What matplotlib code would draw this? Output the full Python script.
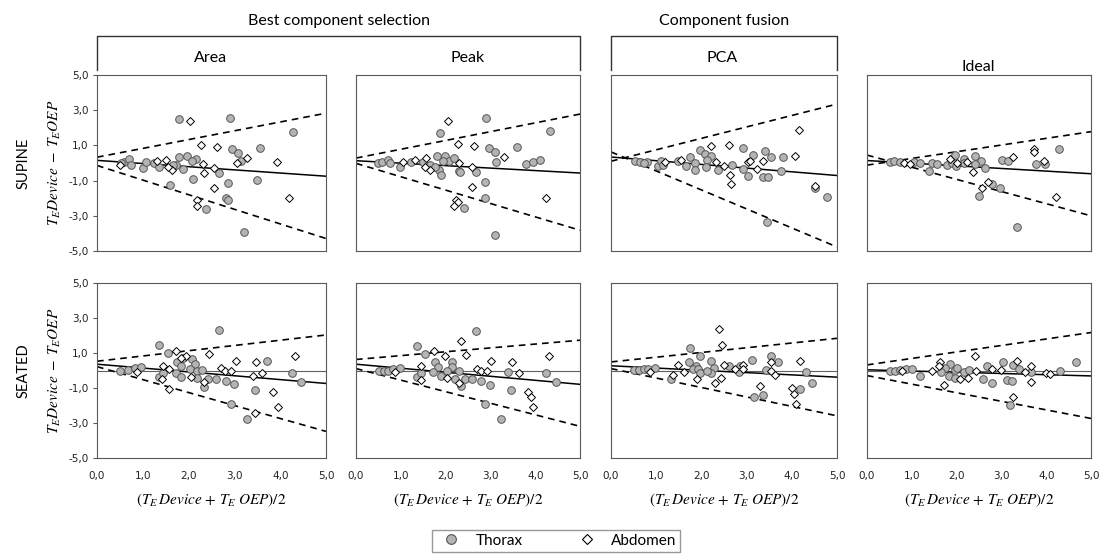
import matplotlib.pyplot as plt
import numpy as np
from matplotlib.lines import Line2D

# ---- datos ----
columnas = ['Area', 'Peak', 'PCA', 'Ideal']
filas = ['SUPINE', 'SEATED']
x_ticks = [0, 1, 2, 3, 4, 5]
x_tick_labels = ['0,0', '1,0', '2,0', '3,0', '4,0', '5,0']
y_ticks = [5, 3, 1, -1, -3, -5]
y_tick_labels = ['5,0', '3,0', '1,0', '-1,0', '-3,0', '-5,0']

# SUPINE - Area
sup_area_thx_x = [1.78, 2.91, 4.29, 3.55, 2.95, 3.07, 3.15, 1.80, 1.97, 2.17, 2.07, 0.60, 0.69, 0.74, 0.53, 1.00,
                  1.08, 1.24, 1.36, 1.67, 1.88, 2.10, 1.59, 2.66, 2.87, 3.49, 2.81, 2.87, 2.38, 3.22, 1.73, 1.66]
sup_area_thx_y = [2.50, 2.53, 1.74, 0.86, 0.80, 0.58, 0.14, 0.33, 0.37, 0.24, 0.10, 0.05, 0.20, -0.10, 0.00, -0.29,
                  0.05, 0.00, -0.23, -0.18, -0.33, -0.90, -1.27, -0.57, -1.12, -0.99, -1.99, -2.08, -2.59, -3.91, -0.10, -0.10]
sup_area_abd_x = [2.04, 2.26, 2.62, 1.31, 1.51, 0.51, 1.64, 2.33, 2.31, 2.55, 2.56, 2.18, 2.18, 3.28, 3.06, 3.93, 4.20, 1.56]
sup_area_abd_y = [2.36, 1.03, 0.93, 0.14, 0.18, -0.10, -0.39, -0.54, -0.08, -0.27, -1.40, -2.12, -2.46, 0.27, 0.00, 0.05, -1.99, -0.24]
sup_area_rectas = [(0.15, -0.18), (0.33, 0.50), (-0.14, -0.83)]

# SUPINE - Peak
sup_peak_thx_x = [2.91, 1.87, 4.32, 3.60, 2.97, 3.10, 3.13, 3.80, 3.96, 4.11, 0.50, 0.59, 0.71, 0.76, 0.99, 1.22, 1.50,
                  1.65, 1.80, 1.99, 2.08, 2.19, 1.86, 1.89, 2.30, 2.33, 2.67, 2.89, 2.89, 2.40, 3.11, 1.76, 1.95]
sup_peak_thx_y = [2.58, 1.68, 1.79, 0.92, 0.83, 0.60, 0.08, -0.06, 0.04, 0.19, 0.00, 0.08, 0.17, 0.00, -0.25, 0.04, 0.08,
                  -0.09, 0.42, 0.42, 0.13, 0.28, -0.40, -0.66, -0.43, -0.49, -0.53, -1.09, -2.00, -2.53, -4.11, -0.21, 0.09]
sup_peak_abd_x = [2.06, 2.28, 2.64, 3.30, 1.32, 1.56, 2.31, 2.58, 1.65, 2.58, 2.23, 2.28, 2.19, 4.23, 1.06, 1.54]
sup_peak_abd_y = [2.40, 1.08, 0.98, 0.32, 0.17, 0.28, 0.00, -0.25, -0.40, -1.38, -2.09, -2.23, -2.45, -1.98, 0.04, -0.21]
sup_peak_rectas = [(0.13, -0.14), (0.28, 0.50), (-0.02, -0.76)]

# SUPINE - PCA
sup_pca_thx_x = [2.93, 1.98, 2.07, 2.21, 1.75, 3.15, 3.41, 3.55, 3.80, 2.12, 1.85, 1.49, 1.67, 1.86, 2.10, 2.36,
                 2.68, 2.93, 3.04, 3.37, 3.48, 3.75, 4.77, 4.51, 3.46, 0.54, 0.65, 0.80, 1.05, 1.11, 1.16, 0.72]
sup_pca_thx_y = [0.86, 0.74, 0.51, 0.38, 0.34, 0.44, 0.67, 0.34, 0.34, 0.15, 0.00, 0.10, -0.19, -0.38, -0.25, -0.38,
                 -0.13, -0.34, -0.72, -0.80, -0.80, -0.44, -1.94, -1.43, -3.37, 0.10, 0.04, 0.04, -0.15, 0.10, -0.10, 0.00]
sup_pca_abd_x = [4.17, 2.21, 2.62, 4.06, 3.04, 3.37, 2.33, 2.50, 2.64, 2.66, 3.22, 4.51, 1.54, 1.20, 3.08]
sup_pca_abd_y = [1.86, 0.99, 1.01, 0.38, 0.04, 0.10, 0.06, -0.19, -0.67, -1.18, -0.34, -1.33, 0.15, 0.04, 0.13]
sup_pca_rectas = [(0.34, -0.21), (0.10, 0.65), (0.63, -1.08)]

# SUPINE - Ideal
sup_ideal_thx_x = [4.29, 3.35, 2.49, 2.78, 2.96, 3.01, 3.15, 3.78, 3.97, 1.97, 2.17, 2.40, 2.55, 2.64, 2.42, 1.38,
                   0.52, 0.60, 0.74, 1.06, 1.19, 1.45, 1.56, 1.79, 1.90, 1.99, 2.16]
sup_ideal_thx_y = [0.81, -3.63, -1.86, -1.21, -1.40, 0.18, 0.12, -0.07, -0.07, 0.47, 0.24, 0.41, 0.09, -0.30, -0.05, -0.45,
                   0.05, 0.09, 0.05, 0.05, 0.00, 0.00, -0.07, -0.10, 0.00, -0.16, 0.00]
sup_ideal_abd_x = [3.72, 3.72, 3.27, 1.86, 2.70, 2.57, 2.36, 4.22, 3.94, 2.01, 2.23, 0.82, 0.97]
sup_ideal_abd_y = [0.81, 0.60, 0.33, 0.24, -1.10, -1.40, -0.52, -1.95, 0.09, 0.00, 0.03, 0.00, -0.05]
sup_ideal_rectas = [(0.14, -0.15), (-0.12, 0.38), (0.45, -0.69)]

# SEATED - Area
sea_area_thx_x = [2.66, 1.36, 1.54, 1.74, 1.87, 1.83, 2.08, 2.15, 2.03, 2.19, 2.30, 1.72, 1.83, 2.19, 2.43, 2.60,
                  2.34, 2.81, 2.99, 2.92, 3.27, 3.46, 3.72, 4.26, 4.46, 1.36, 0.50, 0.68, 0.83, 0.96, 1.45]
sea_area_thx_y = [2.29, 1.43, 0.99, 0.51, 0.74, 0.28, 0.66, 0.38, 0.07, -0.02, 0.03, -0.12, -0.39, -0.45, -0.50, -0.48,
                  -0.92, -0.60, -0.79, -1.93, -2.78, -1.12, 0.55, -0.16, -0.64, -0.35, 0.00, 0.03, 0.17, 0.19, -0.12]
sea_area_abd_x = [1.72, 1.95, 2.44, 3.03, 3.48, 4.32, 1.45, 1.57, 1.83, 2.70, 2.79, 2.92, 2.05, 2.34, 3.40, 3.61,
                  1.43, 1.57, 3.85, 3.96, 3.46, 0.88]
sea_area_abd_y = [1.13, 0.84, 0.93, 0.57, 0.47, 0.84, 0.28, 0.09, 0.71, 0.13, 0.00, 0.00, -0.39, -0.64, -0.29, -0.16,
                  -0.50, -1.06, -1.21, -2.11, -2.45, -0.06]
sea_area_rectas = [(0.36, -0.22), (0.53, 0.30), (0.22, -0.74)]

# SEATED - Peak
sea_peak_thx_x = [2.67, 1.37, 1.54, 1.76, 1.82, 2.14, 2.15, 2.03, 1.90, 1.71, 2.21, 2.34, 2.43, 2.60, 2.79, 2.99,
                  2.89, 3.24, 3.46, 3.40, 4.25, 4.46, 1.37, 0.51, 0.63, 0.72, 0.83, 0.98, 2.30, 1.46]
sea_peak_thx_y = [2.26, 1.40, 0.97, 0.49, 0.21, 0.46, 0.21, 0.00, -0.30, -0.11, -0.46, -0.89, -0.51, -0.49, -0.61, -0.80,
                  -1.94, -2.79, -1.12, -0.08, -0.17, -0.65, -0.36, 0.00, 0.00, 0.00, 0.11, 0.17, 0.00, -0.17]
sea_peak_abd_x = [2.34, 1.74, 1.99, 2.45, 3.02, 3.48, 4.31, 1.46, 2.69, 2.78, 2.93, 3.63, 1.44, 2.03, 2.30, 3.85, 3.90, 3.94, 0.88]
sea_peak_abd_y = [1.69, 1.12, 0.82, 0.91, 0.53, 0.49, 0.82, 0.25, 0.08, -0.02, -0.02, -0.17, -0.55, -0.42, -0.74, -1.21,
                  -1.54, -2.11, -0.08]
sea_peak_rectas = [(0.36, -0.23), (0.63, 0.22), (0.11, -0.66)]

# SEATED - PCA
sea_pca_thx_x = [1.75, 1.96, 1.73, 1.88, 1.82, 1.93, 2.22, 2.27, 2.22, 1.96, 2.12, 1.32, 2.60, 2.86, 2.84, 3.11,
                 3.42, 3.55, 3.70, 4.32, 4.45, 4.19, 3.37, 3.17, 0.51, 0.62, 0.73, 0.82, 0.98]
sea_pca_thx_y = [1.31, 0.82, 0.46, 0.27, 0.11, 0.06, 0.55, 0.15, -0.17, -0.13, -0.04, -0.46, 0.27, 0.27, -0.08, 0.59,
                 0.02, 0.82, 0.46, -0.11, -0.74, -1.03, -1.41, -1.50, 0.02, 0.02, 0.06, 0.11, 0.15]
sea_pca_abd_x = [2.39, 2.45, 4.18, 1.48, 1.37, 1.62, 1.90, 2.31, 2.44, 2.50, 2.92, 2.92, 3.53, 3.55, 3.62, 3.30,
                 4.00, 4.04, 4.10, 2.75, 0.87]
sea_pca_abd_y = [2.40, 1.44, 0.53, 0.30, -0.23, -0.11, -0.46, -0.74, -0.42, 0.34, 0.34, 0.11, 0.49, -0.04, -0.23, -0.89,
                 -0.99, -1.35, -1.92, 0.11, -0.08]
sea_pca_rectas = [(0.27, -0.13), (0.49, 0.27), (0.11, -0.54)]

# SEATED - Ideal
sea_ideal_thx_x = [4.67, 3.04, 3.26, 3.39, 3.65, 4.30, 2.68, 2.60, 2.78, 3.13, 3.24, 3.19, 1.86, 1.75, 1.96, 2.01,
                   1.82, 1.97, 2.16, 2.27, 1.19, 1.66, 0.52, 0.63, 0.73, 0.86, 1.00]
sea_ideal_thx_y = [0.48, 0.46, 0.32, 0.08, -0.06, 0.00, 0.23, -0.50, -0.72, -0.53, -0.59, -1.96, 0.38, 0.13, 0.04, 0.13,
                   -0.29, -0.44, -0.06, 0.04, -0.29, -0.10, 0.00, 0.00, 0.04, 0.10, 0.10]
sea_ideal_abd_x = [2.40, 3.35, 1.62, 1.60, 3.65, 2.99, 2.79, 2.43, 3.53, 4.00, 4.08, 3.65, 1.45, 2.08, 2.25, 1.71, 3.26, 0.78]
sea_ideal_abd_y = [0.84, 0.55, 0.48, 0.27, 0.23, 0.04, 0.08, 0.00, -0.06, -0.15, -0.21, -0.63, -0.02, -0.48, -0.40,
                   -0.82, -1.52, 0.00]
sea_ideal_rectas = [(0.04, -0.07), (0.32, 0.37), (-0.29, -0.49)]

paneles = [
    [(sup_area_thx_x, sup_area_thx_y, sup_area_abd_x, sup_area_abd_y, sup_area_rectas),
     (sup_peak_thx_x, sup_peak_thx_y, sup_peak_abd_x, sup_peak_abd_y, sup_peak_rectas),
     (sup_pca_thx_x, sup_pca_thx_y, sup_pca_abd_x, sup_pca_abd_y, sup_pca_rectas),
     (sup_ideal_thx_x, sup_ideal_thx_y, sup_ideal_abd_x, sup_ideal_abd_y, sup_ideal_rectas)],
    [(sea_area_thx_x, sea_area_thx_y, sea_area_abd_x, sea_area_abd_y, sea_area_rectas),
     (sea_peak_thx_x, sea_peak_thx_y, sea_peak_abd_x, sea_peak_abd_y, sea_peak_rectas),
     (sea_pca_thx_x, sea_pca_thx_y, sea_pca_abd_x, sea_pca_abd_y, sea_pca_rectas),
     (sea_ideal_thx_x, sea_ideal_thx_y, sea_ideal_abd_x, sea_ideal_abd_y, sea_ideal_rectas)],
]

# ---- figura ----
plt.rcParams['mathtext.fontset'] = 'stix'
W, H = 1103, 558
fig = plt.figure(figsize=(W / 100, H / 100), dpi=100)


def fx(px):
    return px / W


def fy(py):
    return 1 - py / H


col_px = [(97, 326), (356, 580), (611, 837), (867, 1091)]
fila_px = [(75, 251), (283, 458)]
x_linea = np.array([0.0, 5.0])

for i, (top, bot) in enumerate(fila_px):
    for j, (izq, der) in enumerate(col_px):
        ax = fig.add_axes([fx(izq), fy(bot), fx(der - izq), (bot - top) / H])
        thx_x, thx_y, abd_x, abd_y, rectas = paneles[i][j]

        if i == 1:
            ax.axhline(0, color='#606060', linewidth=0.8, zorder=1)

        ax.plot(thx_x, thx_y, 'o', ms=5.5, mfc='#b4b4b4', mec='#555555', mew=0.7, zorder=3)
        ax.plot(abd_x, abd_y, 'D', ms=4.2, mfc='white', mec='black', mew=0.7, zorder=3)

        b0, b1 = rectas[0]
        ax.plot(x_linea, b0 + b1 * x_linea, color='black', linewidth=1.1, zorder=2)
        for a0, a1 in rectas[1:]:
            ax.plot(x_linea, a0 + a1 * x_linea, color='black', linewidth=1.2,
                    linestyle=(0, (4, 3)), zorder=2)

        ax.set_xlim(0, 5)
        ax.set_ylim(-5, 5)
        for s in ax.spines.values():
            s.set_color('#595959')
            s.set_linewidth(0.8)

        ax.set_xticks(x_ticks)
        ax.set_yticks(y_ticks)
        if i == 1:
            ax.set_xticklabels(x_tick_labels, fontsize=7.5, color='#222222')
            ax.set_xlabel(r'$(T_E\,Device\,+\,T_E\;OEP)/2$', fontsize=11, labelpad=8)
        else:
            ax.set_xticklabels([])
        ax.tick_params(axis='x', length=0, pad=9)
        if j == 0:
            ax.set_yticklabels(y_tick_labels, fontsize=7.5, color='#222222')
            ax.tick_params(axis='y', length=3, direction='out', color='#595959', pad=3)
            ax.set_ylabel(r'$T_E Device\;-\;T_E OEP$', fontsize=11, labelpad=4)
            ax.text(-0.32, 0.5, filas[i], transform=ax.transAxes, rotation=90,
                    ha='center', va='center', fontsize=10.5, family='Lato')
        else:
            ax.set_yticklabels([])
            ax.tick_params(axis='y', length=0)

# títulos de columna
titulo_pos = [(211, 58), (468, 58), (722, 58), (978, 67)]
for nombre, (px, py) in zip(columnas, titulo_pos):
    fig.text(fx(px), fy(py), nombre, ha='center', va='center', fontsize=11.5, family='Lato')

# grupos con corchete
grupos = [('Best component selection', 97, 580), ('Component fusion', 611, 837)]
for nombre, izq, der in grupos:
    fig.add_artist(Line2D([fx(izq), fx(izq), fx(der), fx(der)], [fy(70), fy(36), fy(36), fy(70)],
                          color='#333333', linewidth=1.0))
    fig.text(fx((izq + der) / 2), fy(21), nombre, ha='center', va='center', fontsize=11.5, family='Lato')

# leyenda
handles = [Line2D([], [], marker='o', linestyle='none', ms=7, mfc='#b4b4b4', mec='#555555', mew=0.8),
           Line2D([], [], marker='D', linestyle='none', ms=5.5, mfc='white', mec='black', mew=0.8)]
fig.legend(handles, ['Thorax', 'Abdomen'], ncol=2, loc='upper left',
           bbox_to_anchor=(fx(432), fy(530)), frameon=True, fancybox=False,
           edgecolor='#808080', prop={'family': 'Lato', 'size': 11},
           columnspacing=3.2, handletextpad=0.6, borderpad=0.25, borderaxespad=0.0)

plt.savefig('out.png', dpi=100)
